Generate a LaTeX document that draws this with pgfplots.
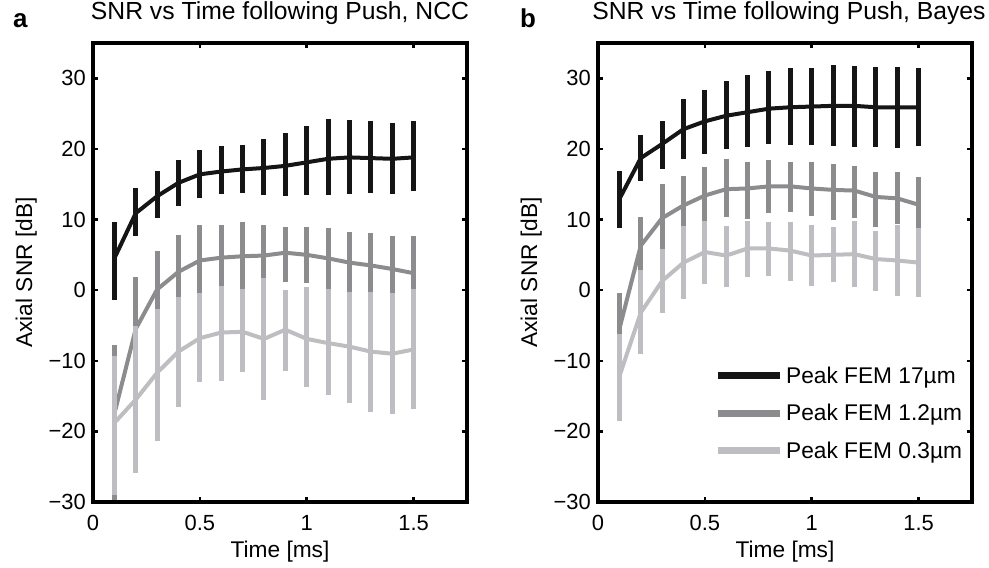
\documentclass[border=0pt]{standalone}
\usepackage{pgfplots}
\pgfplotsset{compat=1.18}
\usepackage{pgfplotstable}
\usepackage{fontspec}
\setmainfont{Liberation Sans}

\definecolor{cblack}{HTML}{151515}
\definecolor{cdark}{HTML}{8C8C8E}
\definecolor{clight}{HTML}{BEBEC2}

% columns: time, mean, top of bar, bottom of bar
\pgfplotstableread{
x y t b
0.1 4.5 9.7 -1.4
0.2 10.9 14.4 7.6
0.3 13.3 16.9 10.2
0.4 15.2 18.5 11.9
0.5 16.4 19.8 13.1
0.6 16.8 20.4 13.6
0.7 17.1 20.6 13.8
0.8 17.3 21.4 13.5
0.9 17.6 22.2 13.3
1.0 18.1 23.3 13.5
1.1 18.6 24.2 13.5
1.2 18.8 24.1 13.6
1.3 18.7 23.9 13.8
1.4 18.6 23.7 13.6
1.5 18.8 23.9 14.0
}\nccA
\pgfplotstableread{
x y t b
0.1 -17.5 -7.7 -29.9
0.2 -5.5 1.9 -12.9
0.3 0.1 5.6 -5.4
0.4 2.6 7.8 -2.6
0.5 4.2 9.2 -0.8
0.6 4.6 9.2 0.0
0.7 4.8 9.7 -0.1
0.8 4.9 9.2 0.6
0.9 5.3 9.0 1.2
1.0 5.0 9.0 1.0
1.1 4.5 8.8 0.2
1.2 3.9 8.3 -0.5
1.3 3.5 8.1 -1.1
1.4 3.0 7.6 -1.6
1.5 2.4 7.7 -2.9
}\nccB
\pgfplotstableread{
x y t b
0.1 -18.8 -9.3 -29.0
0.2 -15.5 -5.1 -25.9
0.3 -11.7 -2.7 -21.3
0.4 -8.7 -1.0 -16.5
0.5 -6.8 -0.4 -13.0
0.6 -6.0 0.6 -12.8
0.7 -5.9 0.1 -11.6
0.8 -6.9 1.7 -15.5
0.9 -5.6 0.0 -11.5
1.0 -6.9 0.5 -13.7
1.1 -7.5 0.2 -14.9
1.2 -8.0 -0.2 -16.0
1.3 -8.7 -0.2 -17.3
1.4 -9.0 -0.4 -17.5
1.5 -8.4 0.1 -16.8
}\nccC
\pgfplotstableread{
x y t b
0.1 12.9 16.9 8.8
0.2 18.7 22.0 15.5
0.3 20.7 24.0 17.1
0.4 22.8 27.1 18.6
0.5 23.9 28.3 19.3
0.6 24.7 29.6 20.0
0.7 25.2 30.5 20.3
0.8 25.7 31.0 20.7
0.9 25.9 31.4 20.6
1.0 26.0 31.5 20.6
1.1 26.1 31.9 20.4
1.2 26.1 31.8 20.3
1.3 25.9 31.6 20.3
1.4 25.9 31.6 20.2
1.5 25.9 31.5 20.4
}\bayA
\pgfplotstableread{
x y t b
0.1 -5.5 -0.4 -10.6
0.2 6.3 10.3 2.3
0.3 10.2 15.1 5.3
0.4 12.0 16.2 7.8
0.5 13.4 17.4 9.4
0.6 14.3 18.6 10.3
0.7 14.4 18.2 10.1
0.8 14.7 18.5 10.9
0.9 14.7 18.1 11.0
1.0 14.4 18.2 10.5
1.1 14.2 17.9 10.0
1.2 14.1 17.6 10.2
1.3 13.2 16.8 9.0
1.4 13.0 16.7 9.3
1.5 12.1 16.0 8.2
}\bayB
\pgfplotstableread{
x y t b
0.1 -12.2 -6.2 -18.6
0.2 -3.2 2.9 -9.1
0.3 1.3 5.8 -3.2
0.4 3.9 9.1 -1.2
0.5 5.4 9.8 0.9
0.6 4.9 9.1 0.5
0.7 5.9 9.8 1.8
0.8 5.9 9.7 2.0
0.9 5.6 9.7 1.3
1.0 4.9 9.2 0.6
1.1 5.0 9.0 1.1
1.2 5.1 9.8 0.4
1.3 4.4 8.4 -0.1
1.4 4.2 9.2 -0.8
1.5 3.9 8.8 -1.0
}\bayC

\pgfplotsset{
  snrax/.style={
    scale only axis, width=374bp, height=459bp,
    xmin=0, xmax=1.75, ymin=-30, ymax=35,
    xtick={0,0.5,1,1.5}, xticklabels={0,0.5,1,1.5},
    ytick={-30,-20,-10,0,10,20,30},
    yticklabels={−30,−20,−10,0,10,20,30},
    tick align=inside, major tick length=5bp,
    tick style={line width=2.5bp, black},
    axis line style={line width=4.5bp, black},
    axis on top, clip=false,
    ticklabel style={font=\fontsize{22}{26}\selectfont},
    yticklabel style={inner sep=0pt, xshift=-7bp},
    xticklabel style={inner sep=0pt, yshift=-13bp},
    xlabel={Time [ms]}, ylabel={Axial SNR [dB]},
    xlabel style={at={(axis description cs:0.5,0)}, anchor=base, yshift=-55bp, font=\fontsize{22.8}{27}\selectfont},
    ylabel style={at={(axis description cs:-0.163,0.5)}, rotate=0, anchor=base, font=\fontsize{22.8}{27}\selectfont},
    title style={at={(axis description cs:0.5,1)}, anchor=base, yshift=18bp, font=\fontsize{24.8}{28}\selectfont},
  },
  snr/.style={no markers, line width=4bp, color=#1, line join=round,
    error bars/.cd, y dir=both, y explicit, error mark=none,
    error bar style={line width=5bp, color=#1}},
}

\begin{document}
\begin{tikzpicture}
\begin{axis}[snrax, at={(0,0)}, title={SNR vs Time following Push, NCC}]
\addplot[snr=cblack] table[x=x, y=y, y error plus expr=\thisrow{t}-\thisrow{y}, y error minus expr=\thisrow{y}-\thisrow{b}] {\nccA};
\addplot[snr=cdark] table[x=x, y=y, y error plus expr=\thisrow{t}-\thisrow{y}, y error minus expr=\thisrow{y}-\thisrow{b}] {\nccB};
\addplot[snr=clight] table[x=x, y=y, y error plus expr=\thisrow{t}-\thisrow{y}, y error minus expr=\thisrow{y}-\thisrow{b}] {\nccC};
\end{axis}
\begin{axis}[snrax, at={(505bp,0)}, title={SNR vs Time following Push, Bayes},
  title style={xshift=4bp},
  legend style={draw=none, fill=none, at={(0.302,0.306)}, anchor=north west,
    font=\fontsize{22.8}{27}\selectfont, row sep=13.5bp, nodes={inner sep=3bp}},
  legend cell align=left,
  legend image code/.code={\draw[#1, line width=7bp] (0bp,0bp) -- (62bp,0bp);}]
\addplot[snr=cblack] table[x=x, y=y, y error plus expr=\thisrow{t}-\thisrow{y}, y error minus expr=\thisrow{y}-\thisrow{b}] {\bayA};
\addlegendentry{Peak FEM 17\textmu m}
\addplot[snr=cdark] table[x=x, y=y, y error plus expr=\thisrow{t}-\thisrow{y}, y error minus expr=\thisrow{y}-\thisrow{b}] {\bayB};
\addlegendentry{Peak FEM 1.2\textmu m}
\addplot[snr=clight] table[x=x, y=y, y error plus expr=\thisrow{t}-\thisrow{y}, y error minus expr=\thisrow{y}-\thisrow{b}] {\bayC};
\addlegendentry{Peak FEM 0.3\textmu m}
\end{axis}
\node[anchor=base west, font=\bfseries\fontsize{26}{30}\selectfont, inner sep=0pt] at (-80bp,474bp) {a};
\node[anchor=base west, font=\bfseries\fontsize{26}{30}\selectfont, inner sep=0pt] at (427bp,474bp) {b};
\pgfresetboundingbox
\path[use as bounding box] (-93bp,-66bp) rectangle (896bp,502bp);
\end{tikzpicture}
\end{document}
